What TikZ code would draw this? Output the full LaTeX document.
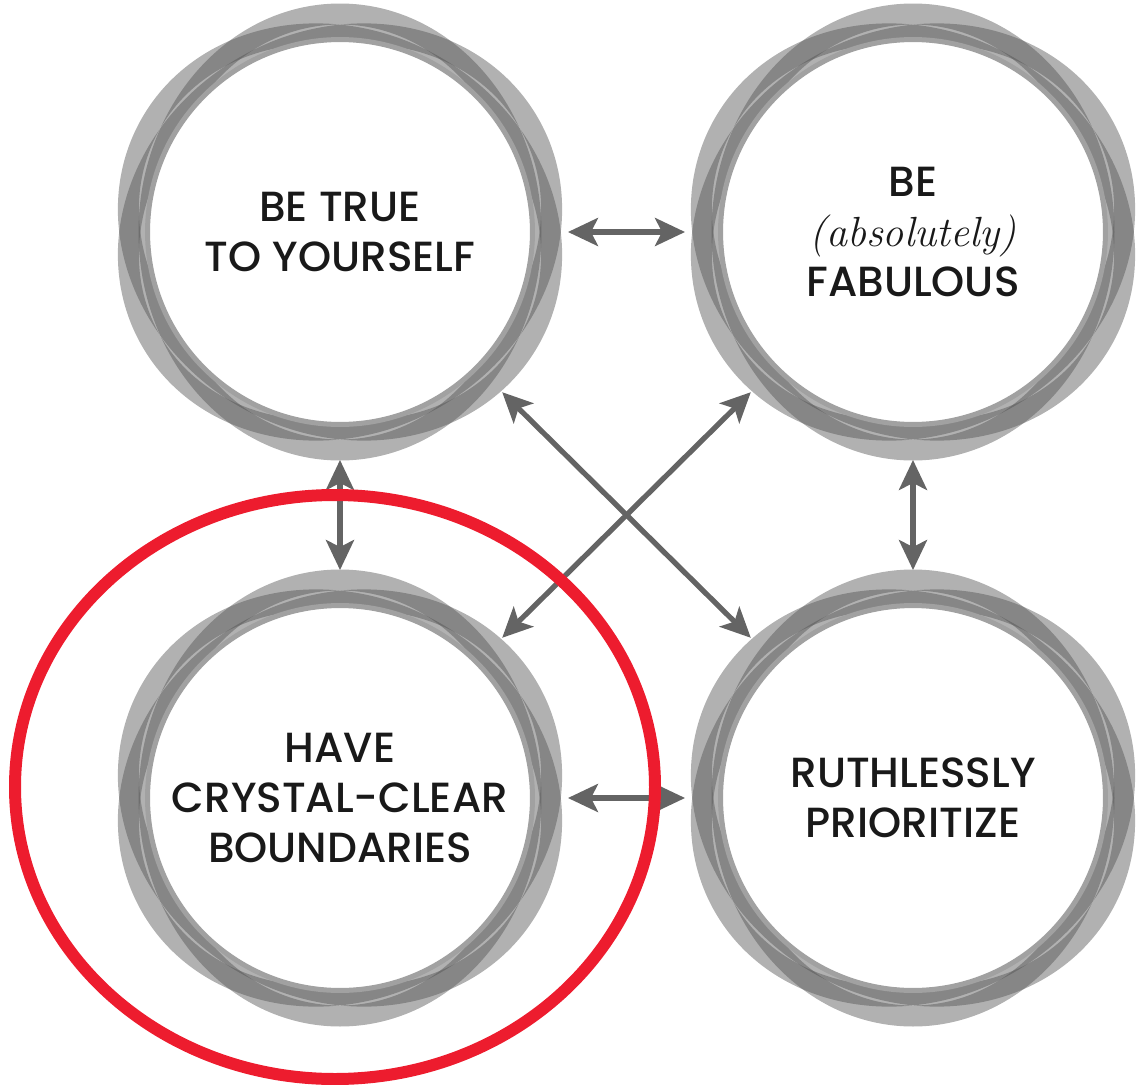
\documentclass[tikz,border=0pt]{standalone}
\usepackage{fontspec}
\newfontfamily\labelfont{Poppins}[UprightFont={* Medium}]
\usetikzlibrary{arrows.meta,backgrounds}

\definecolor{arrowgray}{RGB}{100,100,100}
\definecolor{markred}{RGB}{237,28,46}
\definecolor{textblack}{RGB}{25,25,25}

\tikzset{
  goal/.style={circle, fill=white, draw=black!37, line width=0.1cm, minimum size=7.7cm, inner sep=0pt, outer sep=0.71cm,
    align=center, text=textblack, font=\labelfont\fontsize{24}{28.5}\selectfont},
  link/.style={{Stealth[length=0.6cm,width=0.56cm,inset=0.14cm]}-{Stealth[length=0.6cm,width=0.56cm,inset=0.14cm]},
    line width=3pt, draw=arrowgray},
  petal/.style={draw=black!68, draw opacity=0.45, line width=0.42cm},
}

\begin{document}
\begin{tikzpicture}[x=0.02cm,y=-0.02cm]
        \useasboundingbox (0,0) rectangle (1137,1085);

        % The four goals
        \node[goal] (true) at (340,232) {BE TRUE\\TO YOURSELF};
        \node[goal] (fab) at (913,232) {BE\\{\normalfont\itshape\fontsize{24}{28.5}\selectfont(absolutely)}\\FABULOUS};
        \node[goal] (bound) at (340,798) {HAVE\\CRYSTAL-CLEAR\\BOUNDARIES};
        \node[goal] (prio) at (913,798) {RUTHLESSLY\\PRIORITIZE};

        % Rings behind the goals
        \begin{scope}[on background layer]
          \foreach \n in {true,fab,bound,prio}
            \foreach \a in {30,90,150}
              \draw[petal, rotate around={\a:(\n)}] (\n) ellipse [x radius=218, y radius=191];
        \end{scope}

        % Arrows between the goals
        \draw[link] (true) -- (fab);
        \draw[link] (true) -- (bound);
        \draw[link] (fab) -- (prio);
        \draw[link] (bound) -- (prio);
        \draw[link] (true) -- (prio);
        \draw[link] (fab) -- (bound);

        % Red mark round the boundaries goal
        \draw[markred, line width=0.24cm] (335,787) ellipse [x radius=320, y radius=292];
\end{tikzpicture}
\end{document}
